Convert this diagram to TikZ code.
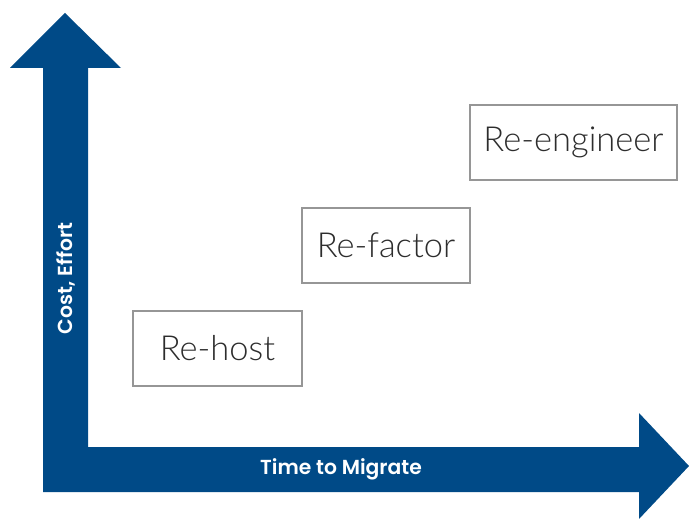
\documentclass[tikz,border=0pt]{standalone}
\usepackage{fontspec}
\setmainfont{Lato}
\newfontfamily\thinfont{Lato Light}
\newfontfamily\axisfont{Poppins SemiBold}
\definecolor{axisblue}{RGB}{0,74,135}
\definecolor{boxgray}{RGB}{150,150,150}
\definecolor{textgray}{RGB}{45,45,45}
\begin{document}
\begin{tikzpicture}[x=1pt,y=-1pt,
  stagebox/.style={draw=boxgray, line width=1.1pt, fill=white, text=textgray,
    font=\thinfont\fontsize{34.5}{34.5}\selectfont, minimum height=75pt, inner sep=0pt},
  axislabel/.style={text=white, font=\axisfont\fontsize{20.3}{20.3}\selectfont, inner sep=0pt}]
\useasboundingbox (0,0) rectangle (689,519);
% L-shaped axes with arrowheads
\fill[axisblue] (43,492) -- (43,68) -- (10,68) -- (65,13) -- (121,68) -- (88,68)
  -- (88,447) -- (639,447) -- (639,413) -- (689,466) -- (639,519) -- (639,492) -- cycle;
\node[axislabel] (xlab) at (341,469.5) {Time to Migrate};
\node[axislabel, rotate=90] (ylab) at (65.5,278.5) {Cost, Effort};
% migration strategies
\node[stagebox, minimum width=169pt] (rehost) at (217.5,348.5) {Re-host};
\node[stagebox, minimum width=168pt] (refactor) at (386,245.5) {Re-factor};
\node[stagebox, minimum width=207pt] (reeng) at (573.5,142.5) {Re-engineer};
\end{tikzpicture}
\end{document}
